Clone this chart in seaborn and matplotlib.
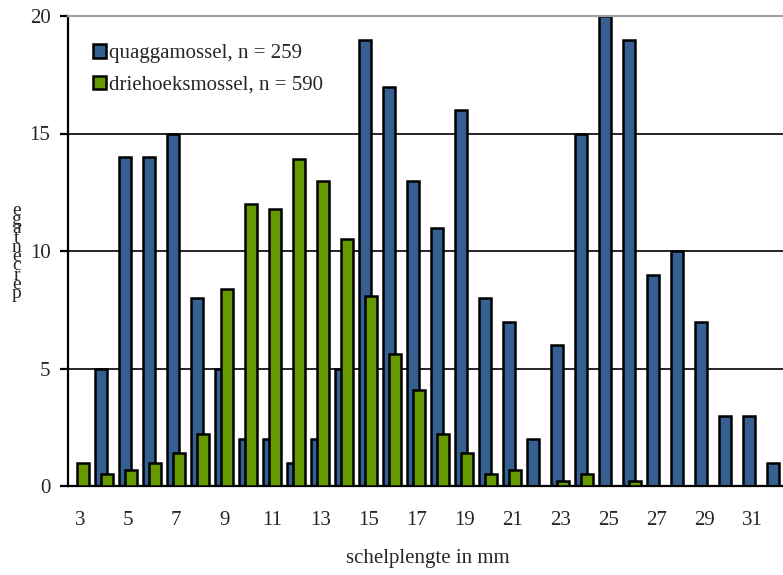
import matplotlib
matplotlib.use("Agg")
import matplotlib.pyplot as plt
import numpy as np
import pandas as pd
import seaborn as sns

# shell length classes (mm)
lengths = list(range(3, 33))
# quagga mussel, n = 259
quagga = [0, 5, 14, 14, 15, 8, 5, 2, 2, 1,
          2, 5, 19, 17, 13, 11, 16, 8, 7, 2,
          6, 15, 20, 19, 9, 10, 7, 3, 3, 1]
# zebra mussel, n = 590
driehoek = [1.0, 0.5, 0.7, 1.0, 1.4, 2.2, 8.4, 12.0, 11.8, 13.9,
            13.0, 10.5, 8.1, 5.6, 4.1, 2.2, 1.4, 0.5, 0.7, 0.0,
            0.2, 0.5, 0.0, 0.2, 0.0, 0.0, 0.0, 0.0, 0.0, 0.0]
series_labels = ["quaggamossel, n = 259", "driehoeksmossel, n = 590"]
tick_lengths = list(range(3, 32, 2))
y_ticks = [0, 5, 10, 15, 20]

BLUE = "#366092"
GREEN = "#669900"
FONT = "Liberation Serif"
FS = 15

sns.set_style("white")
plt.rcParams["font.family"] = [FONT, "DejaVu Serif"]

W, H = 783, 575
fig = plt.figure(figsize=(W / 100, H / 100), dpi=100)
ax = fig.add_axes([68.3 / W, 89 / H, 720 / W, 470 / H])

# overlapping bars: quagga slightly left, zebra mussel slightly right and in front
shift = 0.125
df_q = pd.DataFrame({"lengte": np.array(lengths) - shift, "pct": quagga})
df_d = pd.DataFrame({"lengte": np.array(lengths) + shift, "pct": driehoek})

sns.barplot(data=df_q, x="lengte", y="pct", native_scale=True, width=0.5,
            color=BLUE, saturation=1, edgecolor="black", linewidth=1.8,
            errorbar=None, label=series_labels[0], ax=ax, zorder=2)
sns.barplot(data=df_d, x="lengte", y="pct", native_scale=True, width=0.5,
            color=GREEN, saturation=1, edgecolor="black", linewidth=1.8,
            errorbar=None, label=series_labels[1], ax=ax, zorder=3)

ax.set_xlim(2.5, 32.5)
ax.set_ylim(0, 20)
ax.set_yticks(y_ticks)
ax.set_yticklabels([str(v) for v in y_ticks], fontsize=FS)
ax.set_xticks(tick_lengths)
ax.set_xticklabels([str(v) for v in tick_lengths], fontsize=FS)
ax.set_xticks(np.arange(2.5, 33.0, 1.0), minor=True)

ax.tick_params(axis="x", which="major", length=0, pad=18.0)
ax.tick_params(axis="x", which="minor", length=4.3, width=1.6,
               direction="out", color="black")
ax.tick_params(axis="y", which="major", length=5.8, width=1.6,
               direction="out", color="black", pad=7.0, left=True)

ax.grid(axis="y", color="black", linewidth=1.2)
ax.grid(axis="x", visible=False)
ax.set_axisbelow(True)
ax.yaxis.get_gridlines()[-1].set_visible(False)

for side in ("left", "bottom"):
    ax.spines[side].set_color("black")
    ax.spines[side].set_linewidth(1.6)
ax.spines["top"].set_color("#a0a0a0")
ax.spines["top"].set_linewidth(1.6)
ax.spines["right"].set_visible(False)

ax.set_ylabel("")
ax.set_xlabel("schelplengte in mm", fontsize=FS)
ax.xaxis.set_label_coords(0.5, -0.164)
ax.xaxis.label.set_va("baseline")

# stacked vertical axis title
fig.text(16.5 / W, 1 - 252 / H, "e\ng\na\nt\nn\ne\nc\nr\ne\np",
         ha="center", va="center", fontsize=14, linespacing=0.41)

ax.legend(loc="upper left", bbox_to_anchor=(0.0343, 0.94), frameon=False,
          borderpad=0, borderaxespad=0, handlelength=0.62, handleheight=0.62,
          handletextpad=0.15, labelspacing=0.6, fontsize=FS)

fig.savefig("out.png", dpi=100)
